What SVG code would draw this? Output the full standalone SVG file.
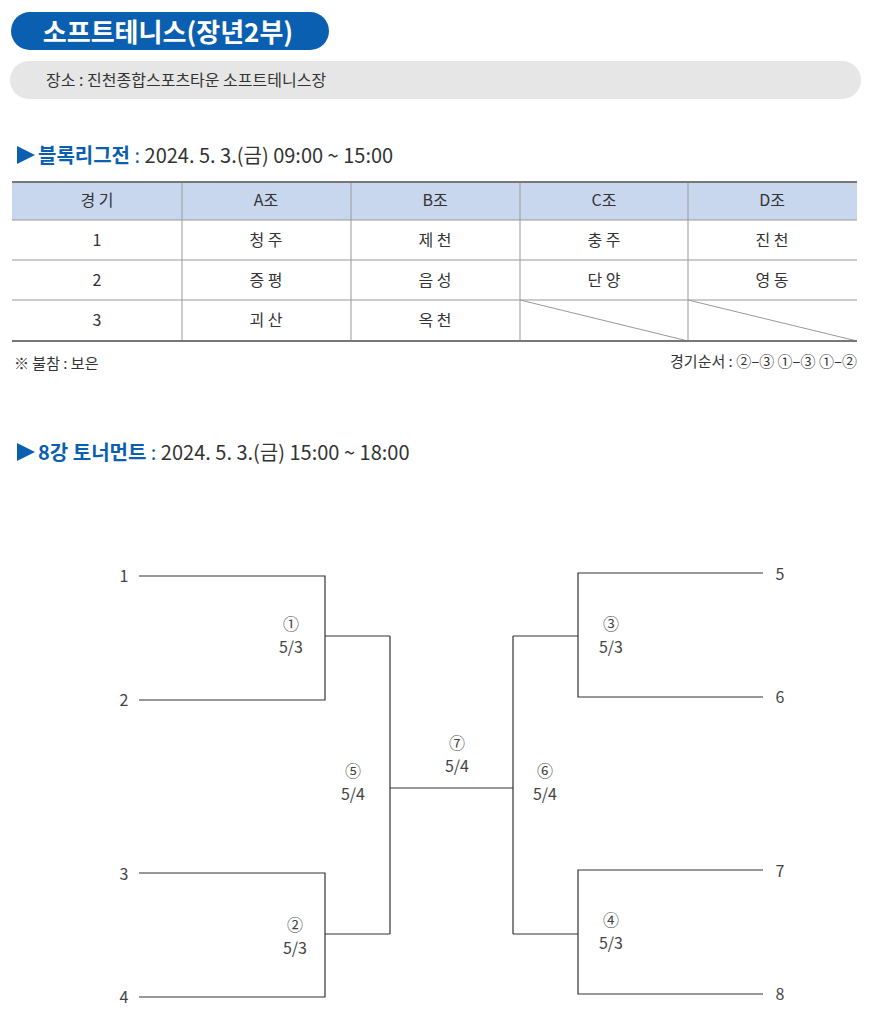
<svg xmlns="http://www.w3.org/2000/svg" width="873" height="1022" viewBox="0 0 873 1022">
<style>
text{font-family:"Noto Sans CJK KR","Noto Sans",sans-serif;fill:#333}
.c{text-anchor:middle;font-size:16px}
.g line{stroke:#999;stroke-width:1}
.b line,.b path{stroke:#333;stroke-width:1.2;fill:none}
.n{font-size:16px;text-anchor:middle;fill:#444}
</style>
<rect width="873" height="1022" fill="#fff"/>
<g id="title">
<rect x="11" y="12" width="318" height="38" rx="19" fill="#0b5fb0"/>
<text x="168" y="42" font-size="26" font-weight="bold" text-anchor="middle" style="fill:#fff">소프트테니스(장년2부)</text>
</g>
<g id="venue">
<rect x="10" y="61" width="851" height="38" rx="19" fill="#e6e6e6"/>
<text x="46" y="86" font-size="16">장소 : 진천종합스포츠타운 소프트테니스장</text>
</g>
<g id="h1">
<path d="M17 146 L35 155 L17 164Z" fill="#0b5fb0"/>
<text x="38" y="163" font-size="20"><tspan font-weight="bold" style="fill:#0b5fb0">블록리그전</tspan><tspan style="fill:#0b5fb0"> :</tspan> 2024. 5. 3.(금) 09:00 ~ 15:00</text>
</g>
<g id="table">
<rect x="12" y="182" width="845" height="38" fill="#c9d7ee"/>
<g class="g">
<line x1="12" y1="260" x2="857" y2="260"/><line x1="12" y1="300" x2="857" y2="300"/><line x1="12" y1="220" x2="857" y2="220"/>
<line x1="182" y1="182" x2="182" y2="341"/><line x1="351" y1="182" x2="351" y2="341"/><line x1="520" y1="182" x2="520" y2="341"/><line x1="688" y1="182" x2="688" y2="341"/>
<line x1="520" y1="300" x2="688" y2="341"/><line x1="688" y1="300" x2="857" y2="341"/>
</g>
<line x1="12" y1="182" x2="857" y2="182" stroke="#777" stroke-width="2"/>
<line x1="12" y1="341" x2="857" y2="341" stroke="#777" stroke-width="2"/>
<text class="c" x="97" y="206">경 기</text><text class="c" x="266" y="206">A조</text><text class="c" x="435" y="206">B조</text><text class="c" x="604" y="206">C조</text><text class="c" x="772" y="206">D조</text>
<text class="c" x="97" y="246">1</text><text class="c" x="266" y="246">청 주</text><text class="c" x="435" y="246">제 천</text><text class="c" x="604" y="246">충 주</text><text class="c" x="772" y="246">진 천</text>
<text class="c" x="97" y="286">2</text><text class="c" x="266" y="286">증 평</text><text class="c" x="435" y="286">음 성</text><text class="c" x="604" y="286">단 양</text><text class="c" x="772" y="286">영 동</text>
<text class="c" x="97" y="326">3</text><text class="c" x="266" y="326">괴 산</text><text class="c" x="435" y="326">옥 천</text>
</g>
<text x="14" y="369" font-size="15">※ 불참 : 보은</text>
<text x="857" y="367" font-size="15" text-anchor="end">경기순서 :  ②–③  ①–③  ①–②</text>
<g id="h2">
<path d="M17 443 L35 452 L17 461Z" fill="#0b5fb0"/>
<text x="38" y="460" font-size="20"><tspan font-weight="bold" style="fill:#0b5fb0">8강 토너먼트</tspan><tspan style="fill:#0b5fb0"> :</tspan> 2024. 5. 3.(금) 15:00 ~ 18:00</text>
</g>
<g id="connectors" class="b">
<path d="M139 576H325V700H139M325 636H390"/>
<path d="M139 873H325V997H139M325 934H390"/>
<path d="M390 636V934M390 788H513"/>
<path d="M513 636V934M513 636H578M513 934H578"/>
<path d="M763 573H578V697H763"/>
<path d="M763 870H578V994H763"/>
</g>
<g id="labels">
<text class="n" x="124" y="582">1</text><text class="n" x="124" y="706">2</text><text class="n" x="124" y="880">3</text><text class="n" x="124" y="1003">4</text>
<text class="n" x="780" y="580">5</text><text class="n" x="780" y="703">6</text><text class="n" x="780" y="877">7</text><text class="n" x="780" y="1000">8</text>
<text class="n" x="291" y="630">①</text><text class="n" x="291" y="653">5/3</text>
<text class="n" x="295" y="931">②</text><text class="n" x="295" y="954">5/3</text>
<text class="n" x="611" y="630">③</text><text class="n" x="611" y="653">5/3</text>
<text class="n" x="611" y="926">④</text><text class="n" x="611" y="949">5/3</text>
<text class="n" x="353" y="777">⑤</text><text class="n" x="353" y="800">5/4</text>
<text class="n" x="545" y="777">⑥</text><text class="n" x="545" y="800">5/4</text>
<text class="n" x="457" y="749">⑦</text><text class="n" x="457" y="772">5/4</text>
</g>
</svg>
